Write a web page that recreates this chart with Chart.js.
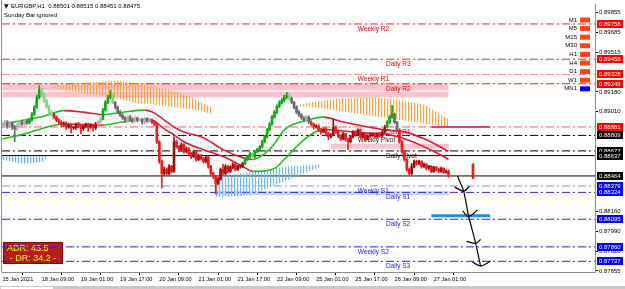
<!DOCTYPE html>
<html>
<head>
<meta charset="utf-8">
<script src="https://cdn.jsdelivr.net/npm/chart.js@4.4.1/dist/chart.umd.min.js"></script>
<style>
  html, body { margin: 0; padding: 0; background: #fff; overflow: hidden; }
  canvas { display: block; }
</style>
</head>
<body>
<canvas id="chart" width="625" height="289"></canvas>
<script>
// ---- data (EURGBP H1) ----
const symbol = 'EURGBP,H1';
const timeLabels = ['15 Jan 2021', '18 Jan 09:00', '19 Jan 01:00', '19 Jan 17:00', '20 Jan 09:00', '21 Jan 01:00',
  '21 Jan 17:00', '22 Jan 09:00', '25 Jan 01:00', '25 Jan 17:00', '26 Jan 09:00', '27 Jan 01:00'];
const tickBars = [0, 16, 32, 48, 64, 80, 96, 112, 128, 144, 160, 176];
const priceTicks = [0.89855, 0.89685, 0.89515, 0.89180, 0.89010, 0.88160, 0.87990, 0.87820, 0.87655];

const opens = [
  .88889,.88906,.88923,.88889,.88915,.88881,.88864,.88898,.88923,.88906,
  .88931,.88915,.88940,.88990,.89049,.89133,.89192,.89158,.89108,.89057,
  .89007,.88990,.88965,.88940,.88923,.88898,.88915,.88881,.88898,.88873,
  .88873,.88906,.88889,.88864,.88889,.88906,.88881,.88898,.88873,.88906,
  .88923,.88948,.89024,.89091,.89133,.89150,.89091,.89049,.89007,.88982,
  .88957,.88940,.88965,.88948,.88931,.88957,.88940,.88940,.88923,.88948,
  .88931,.88940,.88923,.88906,.88755,.88587,.88486,.88520,.88486,.88545,
  .88503,.88755,.88713,.88688,.88730,.88671,.88696,.88654,.88629,.88671,
  .88604,.88637,.88612,.88587,.88620,.88545,.88486,.88461,.88402,.88436,
  .88520,.88486,.88545,.88503,.88537,.88562,.88520,.88545,.88545,.88570,
  .88604,.88629,.88654,.88629,.88671,.88688,.88713,.88755,.88797,.88856,
  .88906,.88965,.89007,.89057,.89091,.89108,.89133,.89150,.89125,.89091,
  .89049,.89007,.88982,.88957,.88940,.88965,.88923,.88906,.88881,.88889,
  .88856,.88839,.88864,.88822,.88797,.88814,.88881,.88839,.88805,.88780,
  .88822,.88772,.88755,.88797,.88839,.88814,.88856,.88797,.88822,.88780,
  .88805,.88814,.88814,.88797,.88822,.88805,.88839,.88881,.88923,.88965,
  .88990,.88923,.88856,.88755,.88671,.88604,.88520,.88486,.88545,.88587,
  .88570,.88587,.88545,.88562,.88528,.88545,.88503,.88537,.88520,.88503,
  .88528,.88495,.88501];
const highs = [
  .88920,.88940,.88935,.88930,.88925,.88895,.88910,.88935,.88940,.88945,
  .88945,.88955,.89005,.89065,.89150,.89234,.89215,.89170,.89120,.89070,
  .89020,.89000,.88975,.88950,.88935,.88925,.88925,.88910,.88905,.88885,
  .88915,.88920,.88900,.88900,.88915,.88915,.88910,.88905,.88920,.88935,
  .88960,.89040,.89105,.89150,.89192,.89165,.89100,.89060,.89020,.88995,
  .88970,.88975,.88980,.88960,.88970,.88965,.88952,.88950,.88960,.88960,
  .88955,.88950,.88935,.88915,.88765,.88600,.88540,.88530,.88560,.88555,
  .88797,.88770,.88725,.88745,.88740,.88710,.88705,.88665,.88685,.88680,
  .88650,.88645,.88625,.88630,.88630,.88555,.88495,.88470,.88450,.88530,
  .88562,.88560,.88555,.88550,.88575,.88570,.88555,.88560,.88580,.88615,
  .88640,.88665,.88665,.88685,.88700,.88725,.88770,.88810,.88870,.88920,
  .88980,.89020,.89070,.89105,.89125,.89150,.89175,.89165,.89135,.89100,
  .89060,.89020,.88995,.88970,.88980,.88975,.88935,.88915,.88900,.88900,
  .88870,.88875,.88875,.88835,.88825,.88948,.88890,.88850,.88815,.88835,
  .88830,.88785,.88810,.88850,.88850,.88865,.88865,.88835,.88830,.88815,
  .88825,.88825,.88825,.88830,.88835,.88850,.88895,.88935,.88980,.89066,
  .89000,.88930,.88865,.88765,.88680,.88615,.88530,.88570,.88600,.88600,
  .88600,.88595,.88575,.88570,.88555,.88555,.88545,.88545,.88530,.88540,
  .88535,.88515,.88515];
const lows = [
  .88875,.88890,.88870,.88875,.88860,.88755,.88850,.88885,.88895,.88895,
  .88900,.88905,.88930,.88980,.89040,.89120,.89140,.89090,.89040,.88990,
  .88975,.88950,.88925,.88905,.88880,.88885,.88860,.88870,.88830,.88860,
  .88860,.88875,.88822,.88850,.88875,.88840,.88870,.88845,.88860,.88895,
  .88915,.88940,.89015,.89080,.89120,.89080,.89035,.88995,.88970,.88945,
  .88920,.88930,.88935,.88915,.88920,.88925,.88930,.88905,.88910,.88920,
  .88920,.88910,.88890,.88740,.88570,.88360,.88470,.88470,.88475,.88490,
  .88495,.88700,.88670,.88675,.88655,.88660,.88640,.88610,.88620,.88590,
  .88595,.88600,.88575,.88575,.88530,.88470,.88440,.88310,.88390,.88425,
  .88475,.88475,.88490,.88495,.88525,.88505,.88510,.88530,.88535,.88560,
  .88595,.88620,.88615,.88620,.88660,.88675,.88700,.88745,.88785,.88845,
  .88895,.88955,.88995,.89045,.89080,.89095,.89120,.89110,.89080,.89035,
  .88995,.88970,.88945,.88925,.88930,.88910,.88890,.88865,.88870,.88840,
  .88820,.88830,.88805,.88772,.88785,.88805,.88825,.88790,.88765,.88770,
  .88760,.88688,.88745,.88785,.88800,.88805,.88785,.88785,.88765,.88770,
  .88795,.88800,.88785,.88785,.88795,.88795,.88830,.88870,.88910,.88955,
  .88910,.88845,.88740,.88655,.88590,.88505,.88470,.88475,.88535,.88555,
  .88560,.88530,.88535,.88515,.88515,.88490,.88495,.88505,.88490,.88495,
  .88485,.88485,.88451];
const closes = [
  .88906,.88923,.88889,.88915,.88881,.88864,.88898,.88923,.88906,.88931,
  .88915,.88940,.88990,.89049,.89133,.89192,.89158,.89108,.89057,.89007,
  .88990,.88965,.88940,.88923,.88898,.88915,.88881,.88898,.88873,.88873,
  .88906,.88889,.88864,.88889,.88906,.88881,.88898,.88873,.88906,.88923,
  .88948,.89024,.89091,.89133,.89150,.89091,.89049,.89007,.88982,.88957,
  .88940,.88965,.88948,.88931,.88957,.88940,.88940,.88923,.88948,.88931,
  .88940,.88923,.88906,.88755,.88587,.88486,.88520,.88486,.88545,.88503,
  .88755,.88713,.88688,.88730,.88671,.88696,.88654,.88629,.88671,.88604,
  .88637,.88612,.88587,.88620,.88545,.88486,.88461,.88402,.88436,.88520,
  .88486,.88545,.88503,.88537,.88562,.88520,.88545,.88545,.88570,.88604,
  .88629,.88654,.88629,.88671,.88688,.88713,.88755,.88797,.88856,.88906,
  .88965,.89007,.89057,.89091,.89108,.89133,.89150,.89125,.89091,.89049,
  .89007,.88982,.88957,.88940,.88965,.88923,.88906,.88881,.88889,.88856,
  .88839,.88864,.88822,.88797,.88814,.88881,.88839,.88805,.88780,.88822,
  .88772,.88755,.88797,.88839,.88814,.88856,.88797,.88822,.88780,.88805,
  .88814,.88814,.88797,.88822,.88805,.88839,.88881,.88923,.88965,.88990,
  .88923,.88856,.88755,.88671,.88604,.88520,.88486,.88545,.88587,.88570,
  .88587,.88545,.88562,.88528,.88545,.88503,.88537,.88520,.88503,.88528,
  .88495,.88501,.88475];
// trend state of the bar colouring indicator: [first bar, state]
const trendRuns = [[0, 0], [11, 1], [21, -1], [39, 0], [41, 1], [46, 0], [61, -1], [99, 1], [118, 0], [126, -1], [157, 1], [160, 0], [162, -1]];
// the lone bar drawn out to the right
const nextBarIndex = 192;
const nextBarOHLC = [0.88562, 0.88570, 0.88440, 0.88444];

// moving average channel
const bandBars = [0, 9, 17, 25, 33, 41, 49, 58, 62, 66, 70, 74, 82, 90, 98, 102, 107, 111, 115, 123, 131, 139, 147, 156, 164, 172, 180, 182];
const upperBand = [.88906,.88940,.88973,.89020,.89007,.88986,.89007,.89024,.88999,.88940,.88881,.88839,.88789,.88688,.88620,.88604,.88654,.88738,.88856,.88931,.88965,.88923,.88889,.88856,.88839,.88780,.88696,.88671];
const midBand = [.88843,.88881,.88923,.88965,.88957,.88940,.88965,.88986,.88965,.88902,.88847,.88797,.88738,.88658,.88583,.88553,.88579,.88633,.88730,.88852,.88915,.88885,.88860,.88839,.88810,.88747,.88663,.88637];
const lowerBand = [.88780,.88822,.88873,.88906,.88902,.88898,.88923,.88948,.88931,.88864,.88814,.88755,.88688,.88629,.88545,.88503,.88507,.88528,.88604,.88772,.88860,.88847,.88831,.88822,.88780,.88713,.88629,.88604];

// histogram clouds
const orange1Bars = [20, 27, 33, 40, 47, 53, 60, 67, 74, 81, 86];
const orange1Top = [.89225,.89242,.89259,.89267,.89276,.89259,.89234,.89200,.89158,.89091,.89041];
const orange1Bottom = [.89209,.89192,.89167,.89150,.89125,.89091,.89074,.89057,.89041,.89015,.88990];
const orange2Bars = [118, 124, 135, 149, 162, 171, 176, 182];
const orange2Top = [.89057,.89083,.89116,.89133,.89108,.89074,.89024,.88948];
const orange2Bottom = [.89049,.89057,.89024,.88982,.88940,.88915,.88898,.88881];
const blue1Bars = [0, 5, 11, 16, 18];
const blue1Top = [.88629,.88629,.88629,.88629,.88629];
const blue1Bottom = [.88604,.88579,.88570,.88587,.88612];
const blue2Bars = [87, 97, 105, 113, 122, 130];
const blue2Top = [.88453,.88486,.88511,.88537,.88553,.88562];
const blue2Bottom = [.88285,.88293,.88335,.88402,.88478,.88545];

// supply / demand zones
const zoneFrom = [0, 0, 134, 87];
const zoneTo = [182, 182, 182, 182];
const zoneHigh = [0.89251, 0.89183, 0.88738, 0.88335];
const zoneLow = [0.89192, 0.89133, 0.88696, 0.88301];
const zoneKinds = ['supply', 'supply', 'supply', 'demand'];

// pivot levels and other horizontal lines
const levelPrices = [0.89758, 0.89458, 0.89328, 0.89249, 0.88881, 0.88809, 0.88677, 0.88637, 0.88464, 0.88379, 0.88324, 0.88095, 0.87860, 0.87737];
const levelNames = ['Weekly R2', 'Daily R3', 'Weekly R1', 'Daily R2', 'Daily R1', 'Weekly Pivot', 'Daily Pivot', '', '', 'Weekly S1', 'Daily S1', 'Daily S2', 'Weekly S2', 'Daily S3'];
const levelKinds = ['R', 'R', 'Rw', 'R', 'Rl', 'P', 'P', 'C', 'B', 'Sw', 'S', 'S', 'S', 'S'];
const shortLinePrices = [0.88881, 0.88125];
const shortLineFrom = [175, 175];
const shortLineTo = [199, 199];

// hand-drawn arrow (bar index, price)
const arrowPath = [[185.7, 0.88461], [188.2, 0.88335], [190.2, 0.88125], [193.1, 0.87890], [195.1, 0.87697]];
const arrowHeads = [
  [[184.5, 0.88369], [188.2, 0.88335], [190.6, 0.88377]],
  [[187.8, 0.88167], [190.2, 0.88117], [193.9, 0.88175]],
  [[189.4, 0.87907], [193.1, 0.87890], [195.1, 0.87923]],
  [[191.8, 0.87730], [195.1, 0.87697], [199.2, 0.87739]]];

const timeframes = ['M1', 'M5', 'M15', 'M30', 'H1', 'H4', 'D1', 'W1', 'MN1'];
const tfTrend = [-1, -1, -1, -1, -1, -1, -1, -1, 1];
const adr = 43.5;
const dr = 34.2;

// ---- styling ----
const FONT = '"Liberation Sans", Arial, sans-serif';
Chart.defaults.font.family = FONT;

function trendAt(i) {
  let s = 0;
  for (const [start, st] of trendRuns) if (i >= start) s = st;
  return s;
}
function candleColor(i) {
  const up = closes[i] >= opens[i];
  const t = trendAt(i);
  if (t === 1) return up ? '#12a812' : '#7fd67f';
  if (t === -1) return up ? '#9a1010' : '#ee1c1c';
  return up ? '#b0b0b0' : '#6a6a6a';
}

function stripes(color) {
  const c = document.createElement('canvas');
  c.width = 3; c.height = 1;
  const g = c.getContext('2d');
  g.fillStyle = color;
  g.fillRect(0, 0, 1.2, 1);
  return g.createPattern(c, 'repeat');
}

const levelStyle = {
  R: {color: '#ff1e1e', dash: [8, 3, 2, 3], text: '#e00000'},
  Rw: {color: '#f48a8a', dash: [8, 3, 2, 3], text: '#e00000'},
  Rl: {color: '#ff5a5a', dash: [8, 3, 2, 3], text: '#e00000'},
  P: {color: '#000000', dash: [8, 3, 2, 3], text: '#202020'},
  C: {color: '#000000', dash: [], text: '#000'},
  B: {color: '#000000', dash: [], text: '#000'},
  S: {color: '#1e1eff', dash: [8, 3, 2, 3], text: '#2222dd'},
  Sw: {color: '#8a8aff', dash: [8, 3, 2, 3], text: '#2222dd'}
};
const boxColor = {R: '#ff0000', Rw: '#ff0000', Rl: '#ff0000', P: '#000', C: '#000', B: '#000', S: '#0000ff', Sw: '#0000ff'};
const zoneColor = {supply: '#f8c3ce', demand: '#cfd8f5'};

const X_MIN = -0.2, X_MAX = 241.8;

const idx = opens.map((_, i) => i);
const datasets = [];

// arrow
datasets.push({type: 'line', data: arrowPath.map(p => ({x: p[0], y: p[1]})), borderColor: '#000', borderWidth: 1.2,
  pointRadius: 0, tension: 0.25, order: 0});
const headPts = [];
arrowHeads.forEach(h => { h.forEach(p => headPts.push({x: p[0], y: p[1]})); headPts.push({x: h[2][0], y: null}); });
datasets.push({type: 'line', data: headPts, borderColor: '#000', borderWidth: 1.2, pointRadius: 0, tension: 0.3, spanGaps: false, order: 0});

// candles
datasets.push({type: 'bar', data: idx.map(i => ({x: i, y: [opens[i], closes[i]]})), backgroundColor: idx.map(candleColor),
  barThickness: 2, minBarLength: 1, grouped: false, order: 1});
datasets.push({type: 'bar', data: idx.map(i => ({x: i, y: [lows[i], highs[i]]})), backgroundColor: idx.map(candleColor),
  barThickness: 1, grouped: false, order: 2});
datasets.push({type: 'bar', data: [{x: nextBarIndex, y: [nextBarOHLC[0], nextBarOHLC[3]]}], backgroundColor: '#ee1c1c',
  barThickness: 2, grouped: false, order: 1});
datasets.push({type: 'bar', data: [{x: nextBarIndex, y: [nextBarOHLC[2], nextBarOHLC[1]]}], backgroundColor: '#ee1c1c',
  barThickness: 1, grouped: false, order: 2});

// channel
const slopeColor = ctx => ctx.p1.parsed.y >= ctx.p0.parsed.y ? '#1ec21e' : '#dc1e3c';
[upperBand, lowerBand].forEach(b => datasets.push({type: 'line', data: bandBars.map((x, i) => ({x, y: b[i]})),
  borderWidth: 1.6, pointRadius: 0, cubicInterpolationMode: 'monotone', segment: {borderColor: slopeColor}, borderColor: '#dc1e3c', order: 3}));
datasets.push({type: 'line', data: bandBars.map((x, i) => ({x, y: midBand[i]})), borderColor: '#b4b4b4', borderWidth: 1,
  borderDash: [1, 2], pointRadius: 0, cubicInterpolationMode: 'monotone', order: 4});

// clouds
function cloud(bars, top, bottom, color) {
  datasets.push({type: 'line', data: bars.map((x, i) => ({x, y: top[i]})), borderWidth: 0, pointRadius: 0, tension: 0.3, order: 6});
  datasets.push({type: 'line', data: bars.map((x, i) => ({x, y: bottom[i]})), borderWidth: 0, pointRadius: 0, tension: 0.3,
    fill: '-1', backgroundColor: stripes(color), order: 6});
}
cloud(orange1Bars, orange1Top, orange1Bottom, '#f7a640');
cloud(orange2Bars, orange2Top, orange2Bottom, '#f7a640');
cloud(blue1Bars, blue1Top, blue1Bottom, '#58aef2');
cloud(blue2Bars, blue2Top, blue2Bottom, '#6fb9f4');

// short marker lines
shortLinePrices.forEach((p, i) => datasets.push({type: 'line', data: [{x: shortLineFrom[i], y: p}, {x: shortLineTo[i], y: p}],
  borderColor: i === 0 ? '#f0388c' : '#1e8ee6', borderWidth: i === 0 ? 2 : 3, pointRadius: 0, order: 5}));

// levels
levelPrices.forEach((p, i) => {
  const st = levelStyle[levelKinds[i]];
  datasets.push({type: 'line', data: [{x: X_MIN, y: p}, {x: X_MAX, y: p}], borderColor: st.color, borderWidth: 1,
    borderDash: st.dash, pointRadius: 0, order: 8});
});

const overlay = {
  id: 'overlay',
  beforeDatasetsDraw(chart) {
    const {ctx, chartArea: a, scales: {x, y}} = chart;
    ctx.save();
    ctx.beginPath();
    ctx.rect(a.left, a.top, a.right - a.left, a.bottom - a.top);
    ctx.clip();
    zoneFrom.forEach((f, i) => {
      const x0 = x.getPixelForValue(f), x1 = x.getPixelForValue(zoneTo[i]);
      const y0 = y.getPixelForValue(zoneHigh[i]), y1 = y.getPixelForValue(zoneLow[i]);
      ctx.fillStyle = zoneColor[zoneKinds[i]];
      ctx.fillRect(x0, y0, x1 - x0, y1 - y0);
    });
    ctx.font = '6.5px ' + FONT;
    ctx.textAlign = 'left';
    ctx.textBaseline = 'middle';
    levelNames.forEach((name, i) => {
      if (!name) return;
      ctx.fillStyle = levelStyle[levelKinds[i]].text;
      const bar = name.startsWith('Weekly') ? 145 : 156.5;
      ctx.fillText(name, x.getPixelForValue(bar), y.getPixelForValue(levelPrices[i]) + 5);
    });
    // ADR panel
    ctx.fillStyle = '#b41e1e';
    ctx.fillRect(3, 242, 60, 22);
    ctx.strokeStyle = '#7a0a0a';
    ctx.lineWidth = 1;
    ctx.strokeRect(3.5, 242.5, 59, 21);
    ctx.fillStyle = '#ffff00';
    ctx.font = '9px ' + FONT;
    ctx.fillText('ADR: ' + adr.toFixed(1), 7, 249);
    ctx.textAlign = 'center';
    ctx.fillText('- DR: ' + dr.toFixed(1) + ' -', 33, 259);
    ctx.restore();
  },
  afterDraw(chart) {
    const {ctx, chartArea: a, scales: {y}} = chart;
    ctx.save();
    // frame
    ctx.strokeStyle = '#8c8c8c';
    ctx.lineWidth = 1;
    ctx.beginPath();
    ctx.moveTo(1.5, 0); ctx.lineTo(1.5, a.bottom + 0.5);
    ctx.stroke();
    // header
    const last = opens.length - 1;
    ctx.fillStyle = '#000';
    ctx.textBaseline = 'middle';
    ctx.textAlign = 'left';
    ctx.font = '6px "DejaVu Sans"';
    ctx.fillText('\u25BC', 4, 6);
    ctx.font = '6px ' + FONT;
    ctx.fillText(symbol + '  ' + [opens[last], highs[last], lows[last], closes[last]].map(v => v.toFixed(5)).join(' '), 11, 6);
    ctx.fillText('Sunday Bar ignored', 4, 15);
    // price boxes
    levelPrices.forEach((p, i) => {
      const py = Math.round(y.getPixelForValue(p));
      ctx.fillStyle = boxColor[levelKinds[i]];
      ctx.fillRect(597, py - 4, 26, 8);
      ctx.fillStyle = '#fff';
      ctx.fillText(p.toFixed(5), 599, py + 0.5);
    });
    // timeframe panel
    timeframes.forEach((tf, i) => {
      const ty = 20 + i * 8.6;
      ctx.fillStyle = '#000';
      ctx.textAlign = 'right';
      ctx.fillText(tf, 577, ty);
      ctx.fillStyle = tfTrend[i] > 0 ? '#0000ff' : '#ff4418';
      ctx.fillRect(580, ty - 2.5, 10, 5);
    });
    // window tab strip
    ctx.fillStyle = '#c8c8c8';
    ctx.fillRect(0, 286, 625, 3);
    ctx.fillStyle = '#fff';
    ctx.fillRect(1, 287, 52, 2);
    ctx.restore();
  }
};

new Chart(document.getElementById('chart'), {
  type: 'bar',
  data: {datasets},
  options: {
    responsive: false,
    animation: false,
    devicePixelRatio: 1,
    layout: {padding: {top: 1, left: 2, right: 0, bottom: 0}},
    plugins: {legend: {display: false}, tooltip: {enabled: false}},
    scales: {
      x: {
        type: 'linear', min: X_MIN, max: X_MAX, offset: false,
        afterBuildTicks: ax => { ax.ticks = tickBars.map(v => ({value: v})); },
        afterFit: ax => { ax.height = 17; },
        ticks: {autoSkip: false, maxRotation: 0, align: 'start', padding: 1, color: '#000', font: {size: 5.6},
          callback: (v, i) => timeLabels[i]},
        grid: {drawOnChartArea: false, tickLength: 3, color: '#000'},
        border: {display: true, color: '#8c8c8c'}
      },
      y: {
        type: 'linear', position: 'right', min: 0.87646, max: 0.89923,
        afterBuildTicks: ax => { ax.ticks = priceTicks.map(v => ({value: v})); },
        afterFit: ax => { ax.width = 30; },
        ticks: {padding: 1, color: '#000', font: {size: 6}, callback: v => v.toFixed(5)},
        grid: {drawOnChartArea: false, tickLength: 3, color: '#000'},
        border: {display: true, color: '#8c8c8c'}
      }
    }
  },
  plugins: [overlay]
});
</script>
</body>
</html>
